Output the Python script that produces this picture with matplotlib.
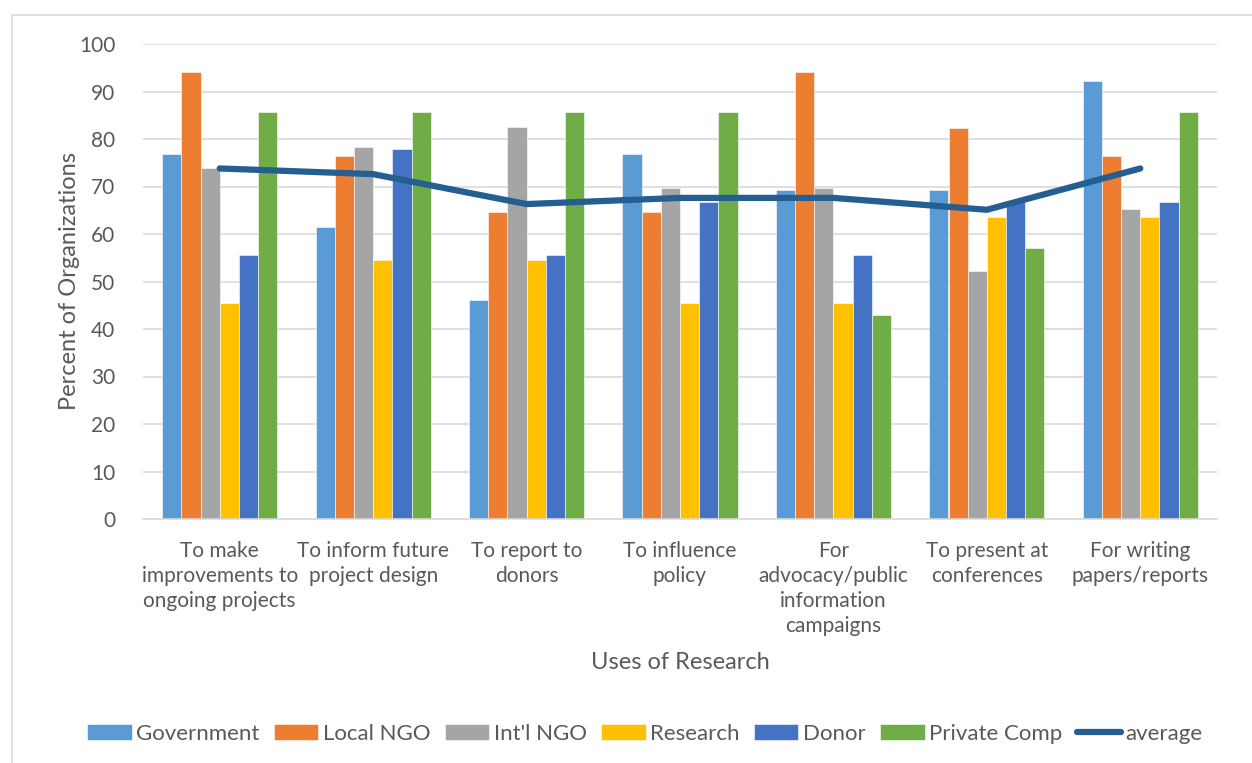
import numpy as np
import matplotlib.pyplot as plt
from matplotlib.patches import Rectangle

plt.rcParams['font.family'] = ['Lato', 'DejaVu Sans']

# Uses of research and percent of organizations by type
categories = ["To make\nimprovements to\nongoing projects",
              "To inform future\nproject design",
              "To report to\ndonors",
              "To influence\npolicy",
              "For\nadvocacy/public\ninformation\ncampaigns",
              "To present at\nconferences",
              "For writing\npapers/reports"]
government = [76.9, 61.5, 46.2, 76.9, 69.2, 69.2, 92.3]
local_ngo = [94.1, 76.5, 64.7, 64.7, 94.1, 82.4, 76.5]
intl_ngo = [73.9, 78.3, 82.6, 69.6, 69.6, 52.2, 65.2]
research = [45.5, 54.5, 54.5, 45.5, 45.5, 63.6, 63.6]
donor = [55.6, 77.8, 55.6, 66.7, 55.6, 66.7, 66.7]
private_comp = [85.7, 85.7, 85.7, 85.7, 42.9, 57.1, 85.7]
average = [73.8, 72.6, 66.3, 67.6, 67.6, 65.1, 73.8]

series = [("Government", government, "#5b9bd5"),
          ("Local NGO", local_ngo, "#ed7d31"),
          ("Int'l NGO", intl_ngo, "#a5a5a5"),
          ("Research", research, "#ffc000"),
          ("Donor", donor, "#4472c4"),
          ("Private Comp", private_comp, "#70ad47")]

text_col = "#595959"
fig = plt.figure(figsize=(12.52, 7.63), dpi=100)
ax = fig.add_axes([143 / 1252, 1 - 519 / 763, (1217 - 143) / 1252, (519 - 44) / 763])

x = np.arange(len(categories))
w = 0.125
for i, (name, vals, col) in enumerate(series):
    ax.bar(x + (i - 2.5) * w, vals, w, color=col, label=name, zorder=2,
           edgecolor="white", linewidth=0.4)
ax.plot(x, average, color="#255e91", lw=4.5, solid_capstyle="round", label="average", zorder=3)

ax.set_xlim(-0.5, len(categories) - 0.5)
ax.set_ylim(0, 100)
ax.set_yticks(range(0, 101, 10))
ax.yaxis.grid(True, color="#d9d9d9", lw=1.2, zorder=0)
for s in ["top", "right", "left"]:
    ax.spines[s].set_visible(False)
ax.spines["bottom"].set_color("#d9d9d9")
ax.spines["bottom"].set_linewidth(1.2)
ax.tick_params(length=0, colors=text_col)
ax.tick_params(axis="y", pad=20, labelsize=15)
ax.tick_params(axis="x", pad=16, labelsize=15)
ax.set_xticks(x)
ax.set_xticklabels(categories, linespacing=1.3)
ax.set_ylabel("Percent of Organizations", fontsize=17, color=text_col, labelpad=-1)
ax.set_xlabel("Uses of Research", fontsize=17, color=text_col, labelpad=12)

handles, labels = ax.get_legend_handles_labels()
handles = handles[1:] + handles[:1]
labels = labels[1:] + labels[:1]
ax.legend(handles, labels, loc="center", bbox_to_anchor=(645 / 1252, 1 - 734 / 763),
          bbox_transform=fig.transFigure, ncol=7, frameon=False, fontsize=16,
          labelcolor=text_col, handlelength=2.0, handleheight=0.7,
          handletextpad=0.2, columnspacing=0.65)

fig.patches.append(Rectangle((12 / 1252, -0.01), 1.0, 1 - 15 / 763 + 0.01,
                             transform=fig.transFigure, fill=False,
                             edgecolor="#d9d9d9", lw=1.2))

fig.savefig("out.png", dpi=100)
